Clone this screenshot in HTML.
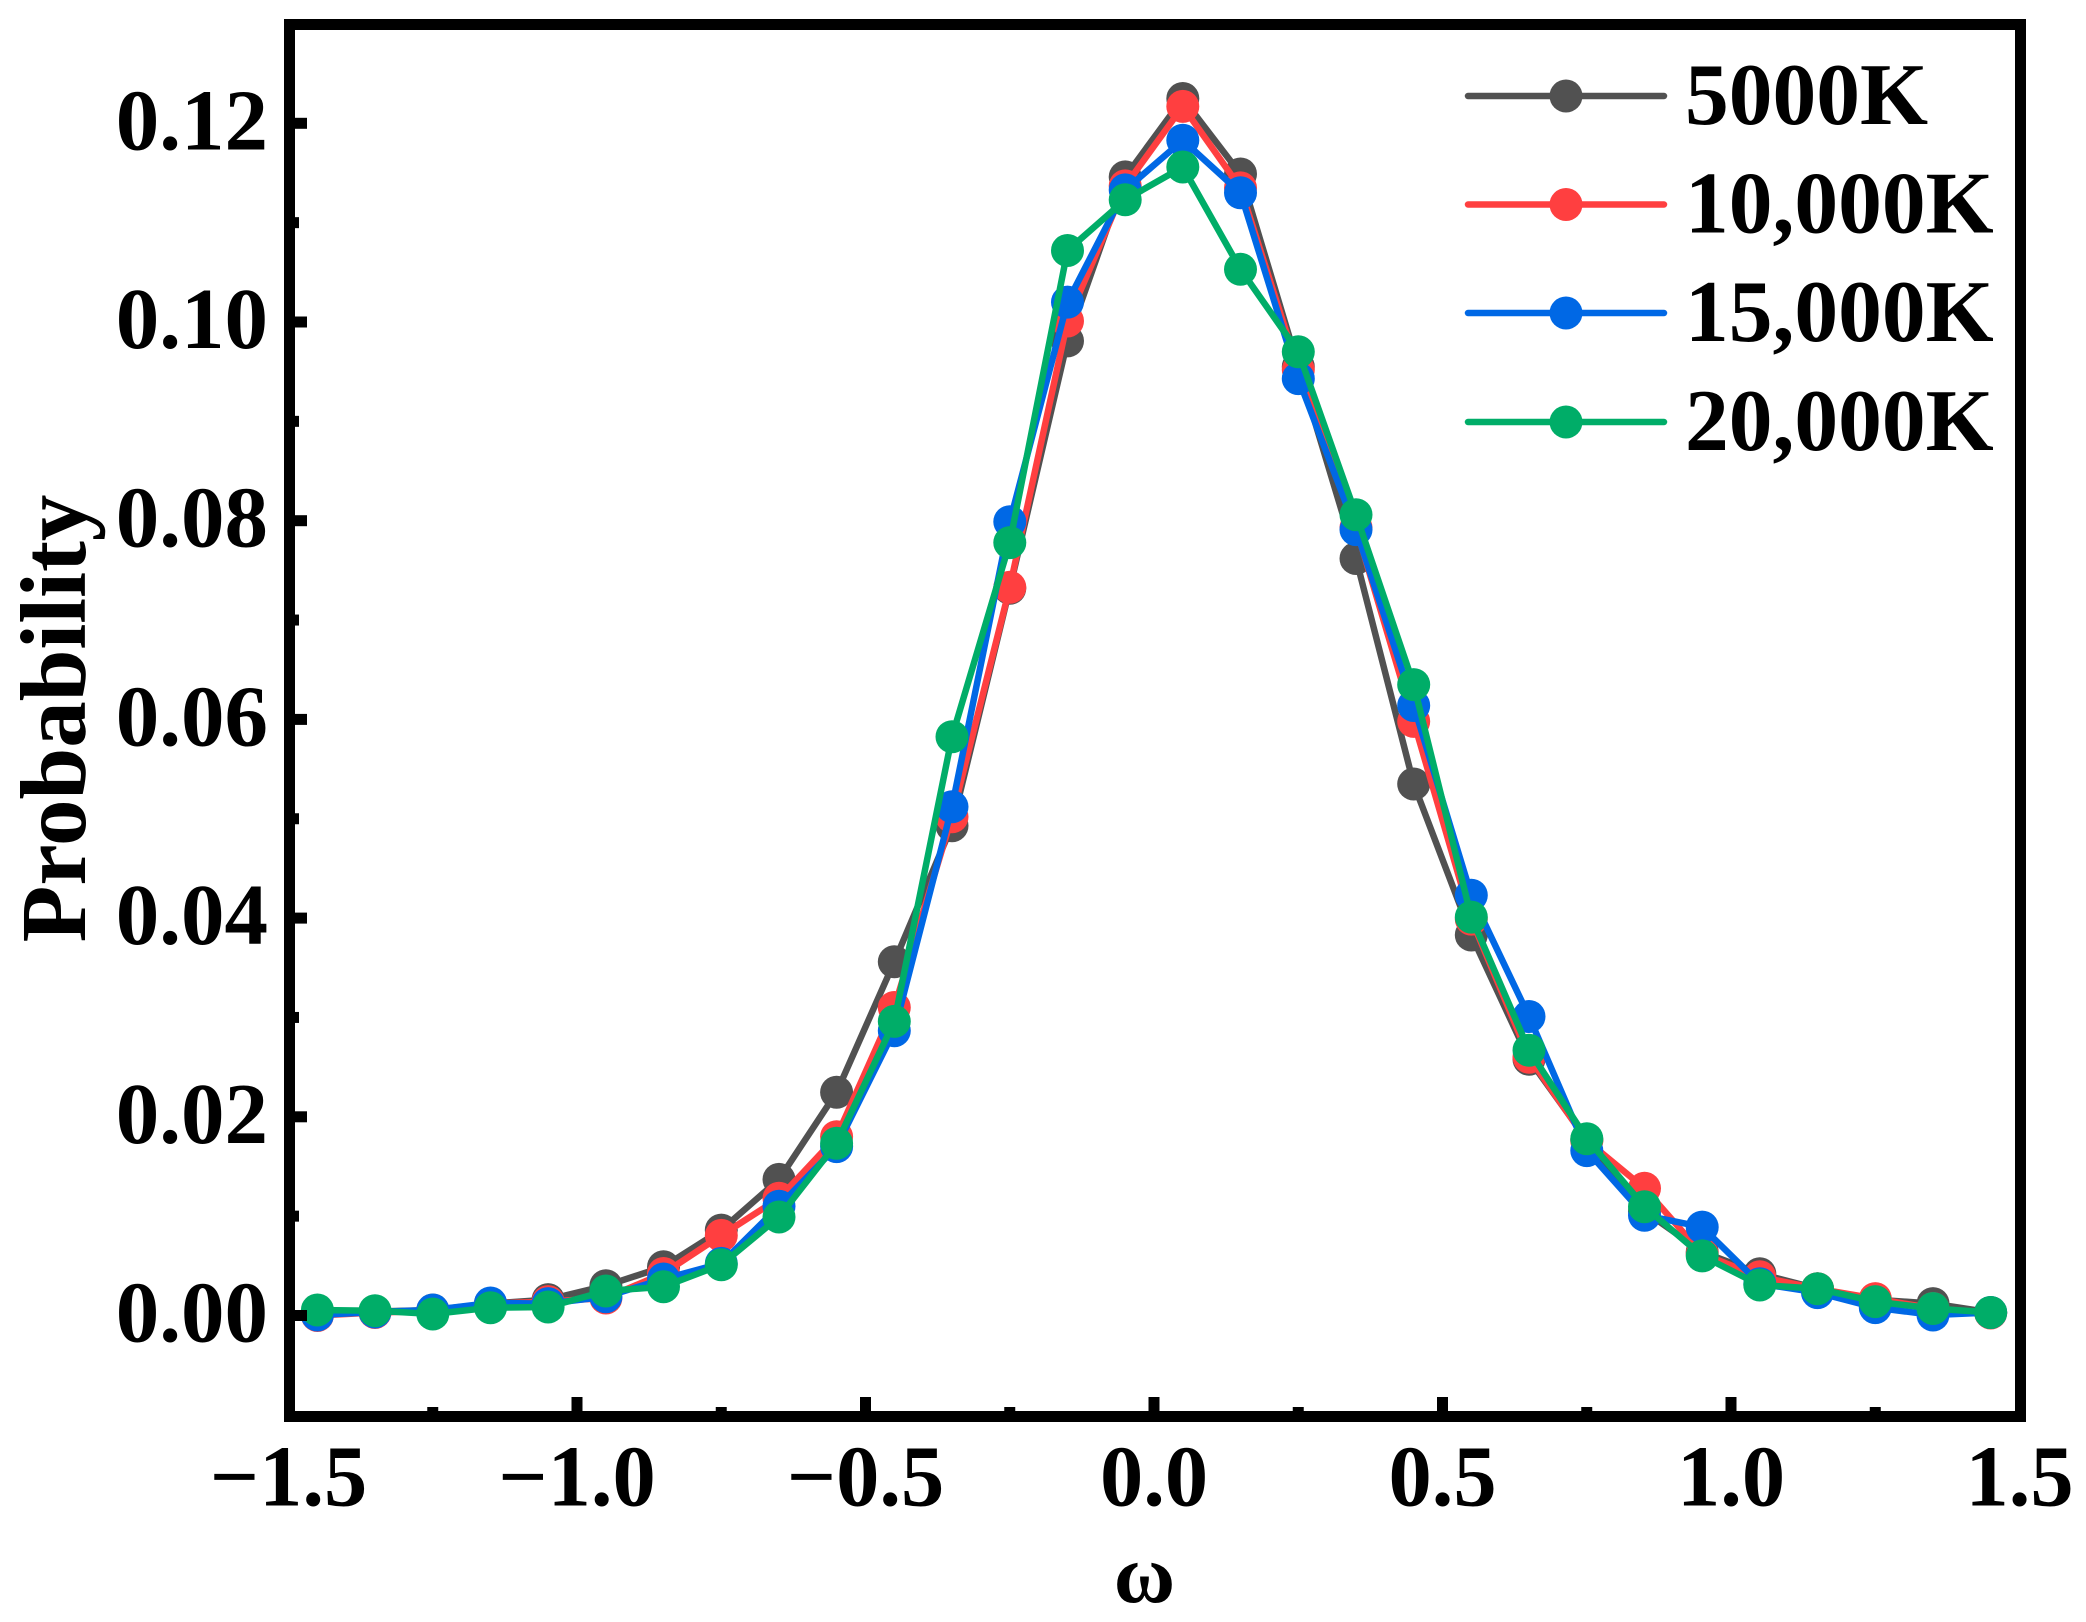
<!DOCTYPE html>
<html lang="en">
<head>
<meta charset="utf-8">
<title>Probability distribution of ω</title>
<style>
html,body{margin:0;padding:0;background:#fff;}
svg{display:block;}
text{font-family:"Liberation Serif",serif;font-weight:bold;fill:#000;}
</style>
</head>
<body>
<svg id="chart" xmlns="http://www.w3.org/2000/svg" width="2086" height="1622" viewBox="0 0 2086 1622">
  <rect x="0" y="0" width="2086" height="1622" fill="#fff"/>
  <g id="series-layer"></g>
  <g id="axes-layer"></g>
  <g id="legend-layer"></g>
  <text transform="translate(85 718.5) rotate(-90)" text-anchor="middle" font-size="93">Probability</text>
  <text x="1144.5" y="1602" text-anchor="middle" font-size="84">ω</text>
</svg>
<script>
const omega = [-1.45,-1.35,-1.25,-1.15,-1.05,-0.95,-0.85,-0.75,-0.65,-0.55,-0.45,-0.35,-0.25,-0.15,-0.05,0.05,0.15,0.25,0.35,0.45,0.55,0.65,0.75,0.85,0.95,1.05,1.15,1.25,1.35,1.45];
const series5000 = [0.0002,0.0004,0.00055,0.0012,0.0016,0.003,0.0049,0.0086,0.0137,0.02247,0.0356,0.0493,0.0732,0.0981,0.1146,0.1225,0.1149,0.0955,0.0762,0.0535,0.0383,0.0258,0.0177,0.0105,0.0064,0.0042,0.0027,0.0016,0.0012,0.0003];
const series10000 = [0,0.0003,0.00045,0.0012,0.0014,0.00176,0.00423,0.00806,0.0118,0.018,0.031,0.0502,0.0733,0.1001,0.1137,0.1217,0.1135,0.0952,0.0793,0.0598,0.0399,0.026,0.0176,0.0128,0.0062,0.0039,0.0027,0.0017,0.0007,0.00025];
const series15000 = [0.00005,0.00035,0.00055,0.00126,0.0012,0.00189,0.00367,0.00524,0.011,0.017,0.02867,0.0512,0.0799,0.102,0.1133,0.1183,0.113,0.0943,0.0791,0.0614,0.0423,0.0301,0.0166,0.0101,0.0089,0.0032,0.0023,0.0008,0.00005,0.0003];
const series20000 = [0.00055,0.00048,0.00015,0.00079,0.00086,0.00247,0.0029,0.00511,0.00991,0.01733,0.0296,0.05826,0.0778,0.1072,0.1123,0.1156,0.1053,0.097,0.0806,0.0635,0.0401,0.0267,0.0178,0.01095,0.006,0.00307,0.0027,0.0014,0.0007,0.0003];
const xMajorTicks = [-1,-0.5,0,0.5,1];
const xMinorTicks = [-1.25,-0.75,-0.25,0.25,0.75,1.25];
const xLabelValues = [-1.5,-1,-0.5,0,0.5,1,1.5];
const xLabels = ["−1.5","−1.0","−0.5","0.0","0.5","1.0","1.5"];
const yMajorTicks = [0,0.02,0.04,0.06,0.08,0.1,0.12];
const yMinorTicks = [0.01,0.03,0.05,0.07,0.09,0.11];
const yLabels = ["0.00","0.02","0.04","0.06","0.08","0.10","0.12"];
const seriesNames = ["5000K","10,000K","15,000K","20,000K"];
const seriesValues = [series5000,series10000,series15000,series20000];
const seriesColors = ["#515151","#FF3F40","#0068E5","#00AD68"];

const NS = "http://www.w3.org/2000/svg";
function xScale(v){ return 1154 + 577 * v; }
function yScale(v){ return 1315.5 - 9935 * v; }
function make(tag, attrs, parent){
  const el = document.createElementNS(NS, tag);
  for (const k in attrs) el.setAttribute(k, attrs[k]);
  parent.appendChild(el);
  return el;
}
const seriesLayer = document.getElementById('series-layer');
const axesLayer = document.getElementById('axes-layer');
const legendLayer = document.getElementById('legend-layer');

seriesValues.forEach(function(vals, s){
  const g = make('g', {}, seriesLayer);
  
  
  const pts = vals.map(function(v, i){ return xScale(omega[i]).toFixed(1) + ',' + yScale(v).toFixed(1); }).join(' ');
  const line = make('polyline', {points: pts, fill: 'none', stroke: seriesColors[s], 'stroke-width': 6.5, 'stroke-linejoin': 'round'}, g);
  
  
  vals.forEach(function(v, i){
    const c = make('circle', {cx: xScale(omega[i]).toFixed(1), cy: yScale(v).toFixed(1), r: 16.5, fill: seriesColors[s]}, g);
    
    
  });
});

// frame
const frame = make('rect', {x: 289.5, y: 24.5, width: 1731, height: 1392, fill: 'none', stroke: '#000', 'stroke-width': 11}, axesLayer);



// ticks
xMajorTicks.forEach(function(v){
  const t = make('line', {x1: xScale(v), x2: xScale(v), y1: 1397, y2: 1412, stroke: '#000', 'stroke-width': 11}, axesLayer);
  
  
});
xMinorTicks.forEach(function(v){
  const t = make('line', {x1: xScale(v), x2: xScale(v), y1: 1407, y2: 1412, stroke: '#000', 'stroke-width': 11}, axesLayer);
  
  
});
yMajorTicks.forEach(function(v){
  const t = make('line', {x1: 294, x2: 307, y1: yScale(v), y2: yScale(v), stroke: '#000', 'stroke-width': 11}, axesLayer);
  
  
});
yMinorTicks.forEach(function(v){
  const t = make('line', {x1: 294, x2: 299, y1: yScale(v), y2: yScale(v), stroke: '#000', 'stroke-width': 11}, axesLayer);
  
  
});

// tick labels
xLabelValues.forEach(function(v, i){
  const t = make('text', {x: xScale(v), y: 1505.5, 'text-anchor': 'middle', 'font-size': 86.5}, axesLayer);
  
  
  t.textContent = xLabels[i];
});
yMajorTicks.forEach(function(v, i){
  const t = make('text', {x: 268, y: yScale(v) + 26, 'text-anchor': 'end', 'font-size': 87}, axesLayer);
  
  
  t.textContent = yLabels[i];
});

// legend
const legendRowY = [96, 204.5, 313, 422];
seriesNames.forEach(function(name, s){
  const g = make('g', {}, legendLayer);
  
  
  const y = legendRowY[s];
  const l = make('line', {x1: 1468, x2: 1664, y1: y, y2: y, stroke: seriesColors[s], 'stroke-width': 6.5, 'stroke-linecap': 'round'}, g);
  
  
  const c = make('circle', {cx: 1566, cy: y, r: 16.5, fill: seriesColors[s]}, g);
  
  
  const t = make('text', {x: 1685, y: y + 28, 'font-size': 87.5}, g);
  
  
  t.textContent = name;
});
</script>
</body>
</html>
